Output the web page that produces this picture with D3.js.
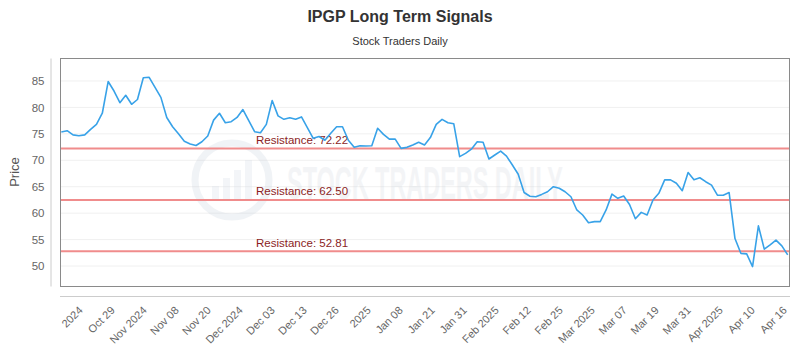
<!DOCTYPE html>
<html><head><meta charset="utf-8">
<script src="https://cdn.jsdelivr.net/npm/d3@7"></script>
<style>body{margin:0;background:#fff} svg{display:block}</style>
</head><body>
<svg id="chart" width="800" height="350"></svg>
<script>
const prices = [
75.35, 75.6, 74.8, 74.65, 74.8, 75.85, 76.8, 78.9, 84.9, 83.1,
80.9, 82.3, 80.6, 81.5, 85.6, 85.7, 83.8, 81.9, 78.1, 76.35,
75.0, 73.6, 73.1, 72.8, 73.5, 74.6, 77.6, 78.9, 77.1, 77.3,
78.1, 79.6, 77.5, 75.4, 75.2, 76.8, 81.3, 78.4, 77.75, 78.05,
77.75, 78.2, 76.2, 74.15, 74.5, 73.8, 75.1, 76.35, 76.35, 73.8,
72.45, 72.75, 72.7, 72.75, 76.05, 74.9, 74.0, 74.0, 72.25, 72.45,
72.9, 73.4, 72.9, 74.3, 76.8, 77.75, 77.1, 76.9, 70.7, 71.3,
72.1, 73.5, 73.4, 70.25, 71.0, 71.75, 70.8, 69.1, 67.35, 63.9,
63.2, 63.1, 63.55, 64.05, 65.0, 64.7, 64.05, 63.1, 60.6, 59.65,
58.2, 58.4, 58.4, 60.6, 63.6, 62.8, 63.25, 61.65, 58.95, 60.15,
59.65, 62.5, 63.75, 66.3, 66.3, 65.65, 64.25, 67.7, 66.3, 66.7,
65.95, 65.3, 63.4, 63.4, 63.9, 55.2, 52.4, 52.3, 49.9, 57.6,
53.2, 54.0, 54.9, 53.8, 52.1
];
const xTickLabels = ["2024","Oct 29","Nov 2024","Nov 08","Nov 20","Dec 2024","Dec 03","Dec 13","Dec 26","2025","Jan 08","Jan 21","Jan 31","Feb 2025","Feb 12","Feb 25","Mar 2025","Mar 07","Mar 19","Mar 31","Apr 2025","Apr 10","Apr 16"];
const resistanceLevels = [72.22, 62.50, 52.81];
const yTicks = [50, 55, 60, 65, 70, 75, 80, 85];
const titleText = "IPGP Long Term Signals";
const subtitleText = "Stock Traders Daily";
const yAxisTitle = "Price";
const watermarkText = "STOCK TRADERS DAILY";

const plot = {left: 60, right: 790, top: 58, bottom: 286};
const svg = d3.select('#chart');
const FONT = "'Liberation Sans', Arial, sans-serif";

const x = d3.scaleLinear().domain([0, prices.length - 1]).range([61.3, 787.7]);
const y = d3.scaleLinear().domain([46.22, 89.35]).range([plot.bottom, plot.top]);

// title
svg.append('text').attr('x', 400).attr('y', 22).attr('text-anchor', 'middle')
  .style('font-family', FONT).style('font-size', '16px').style('font-weight', 'bold')
  .attr('fill', '#333').text(titleText);
svg.append('text').attr('x', 400).attr('y', 45).attr('text-anchor', 'middle')
  .style('font-family', FONT).style('font-size', '11px')
  .attr('fill', '#333').text(subtitleText);

// gridlines
svg.append('g').selectAll('line').data(yTicks).join('line')
  .attr('x1', plot.left).attr('x2', plot.right)
  .attr('y1', d => y(d)).attr('y2', d => y(d))
  .attr('stroke', '#f0f0f0').attr('stroke-width', 1);

// watermark
const wm = svg.append('g').attr('opacity', 0.2);
wm.append('circle').attr('cx', 232).attr('cy', 180).attr('r', 37)
  .attr('fill', 'none').attr('stroke', '#b8c4d4').attr('stroke-width', 7);
const barsH = [14, 22, 30, 40];
wm.selectAll('rect.wb').data(barsH).join('rect').attr('class', 'wb')
  .attr('x', (d, i) => 212 + i * 11).attr('y', d => 200 - d)
  .attr('width', 7).attr('height', d => d).attr('fill', '#c8d2e0');
wm.append('text').attr('x', 287).attr('y', 199)
  .attr('textLength', 276).attr('lengthAdjust', 'spacingAndGlyphs')
  .style('font-family', FONT).style('font-size', '46px').style('font-weight', 'bold')
  .attr('fill', '#c5ccd6').text(watermarkText);

// resistance lines
const rg = svg.append('g');
rg.selectAll('line').data(resistanceLevels).join('line')
  .attr('x1', plot.left).attr('x2', plot.right)
  .attr('y1', d => y(d)).attr('y2', d => y(d))
  .attr('stroke', '#f08c8c').attr('stroke-width', 2);
rg.selectAll('text').data(resistanceLevels).join('text')
  .attr('x', 256).attr('y', d => y(d) - 4.5)
  .style('font-family', FONT).style('font-size', '11.5px')
  .attr('fill', '#8b1e1e').text(d => 'Resistance: ' + d.toFixed(2));

// price line
const line = d3.line().x((d, i) => x(i)).y(d => y(d));
svg.append('path').datum(prices).attr('d', line)
  .attr('fill', 'none').attr('stroke', '#38a2e8').attr('stroke-width', 1.6)
  .attr('stroke-linejoin', 'round');

// plot border
svg.append('rect').attr('x', plot.left + 0.5).attr('y', plot.top + 0.5)
  .attr('width', plot.right - plot.left - 1).attr('height', plot.bottom - plot.top)
  .attr('fill', 'none').attr('stroke', '#8a8a8a').attr('stroke-width', 1);

// y axis
const yAxis = svg.append('g').attr('transform', 'translate(50.5,0)')
  .call(d3.axisLeft(y).tickValues(yTicks).tickSize(0).tickSizeOuter(0).tickPadding(6));
yAxis.select('.domain').attr('stroke', '#ccc');
yAxis.selectAll('text').style('font-family', FONT).style('font-size', '11.5px').attr('fill', '#666');

svg.append('text').attr('transform', 'translate(19,172) rotate(-90)')
  .attr('text-anchor', 'middle')
  .style('font-family', FONT).style('font-size', '13px').attr('fill', '#555').text(yAxisTitle);

// x axis
const tickPos = xTickLabels.map((_, k) => 3.36 + k * 5.463);
svg.append('line').attr('x1', plot.left).attr('x2', plot.right)
  .attr('y1', 296.5).attr('y2', 296.5).attr('stroke', '#ccc');
const xAxis = svg.append('g').attr('transform', 'translate(0,296)')
  .call(d3.axisBottom(x).tickValues(tickPos).tickFormat((d, i) => xTickLabels[i]).tickSize(0));
xAxis.select('.domain').remove();
xAxis.selectAll('text')
  .attr('text-anchor', 'end').attr('dy', null).attr('y', 0)
  .attr('transform', 'translate(2,15) rotate(-45)')
  .style('font-family', FONT).style('font-size', '11px').attr('fill', '#666');
</script>
</body></html>
